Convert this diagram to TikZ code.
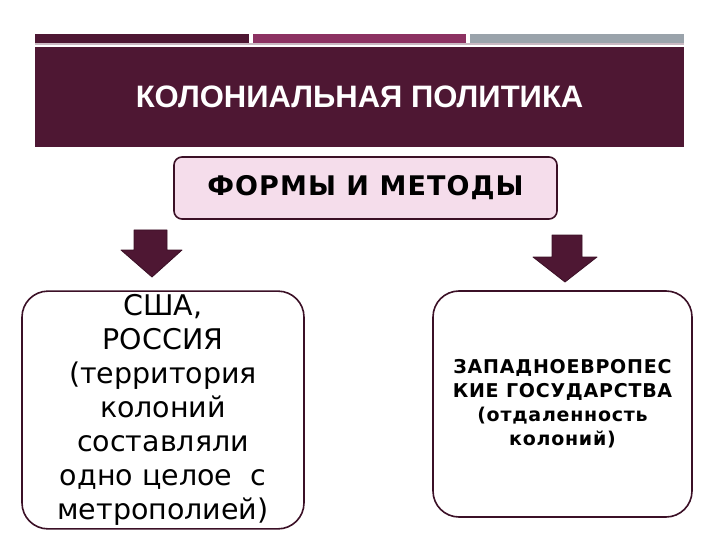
\documentclass[tikz,border=0pt]{standalone}
\usepackage{fontspec}
\setmainfont{DejaVu Sans}
\newfontfamily\titlefont{Liberation Sans}
\newfontfamily\spacedfont[LetterSpace=4]{DejaVu Sans}
\definecolor{plum}{HTML}{4E1733}
\definecolor{berry}{HTML}{8C3262}
\definecolor{slate}{HTML}{9AA3AB}
\definecolor{blush}{HTML}{F5DDEB}
\definecolor{rim}{HTML}{3B1026}
\begin{document}
\begin{tikzpicture}[x=1pt, y=-1pt, line join=round,
	formbox/.style={draw=rim, line width=1.6pt, rounded corners=8pt, fill=blush, minimum width=383pt, minimum height=62pt, font=\spacedfont\bfseries\fontsize{27}{30}\selectfont},
	sidebox/.style={draw=rim, line width=1.6pt, rounded corners=26pt, fill=white, align=center},
	downarrow/.style={fill=plum, draw=rim, line width=0.8pt}]
	\useasboundingbox (0,0) rectangle (720,540);
	% top bars
	\fill[plum] (35,34) rectangle (249,43);
	\fill[berry] (253,34) rectangle (466,43);
	\fill[slate] (470,34) rectangle (684,43);
	\fill[plum!30] (35,43.5) rectangle (684,45.5);
	\node[fill=plum, minimum width=649pt, minimum height=100pt, inner sep=0pt, text=white,
		font=\titlefont\bfseries\fontsize{31}{36}\selectfont] (title) at (359.5,97) {КОЛОНИАЛЬНАЯ ПОЛИТИКА};
	\node[formbox] (forms) at (365.5,188) {ФОРМЫ И МЕТОДЫ};
	% block arrows
	\filldraw[downarrow] (134,230) -- (167,230) -- (167,250) -- (182,250) -- (152,277) -- (121,250) -- (134,250) -- cycle;
	\filldraw[downarrow] (552,235) -- (582,235) -- (582,257) -- (597,257) -- (565,282) -- (533,257) -- (552,257) -- cycle;
	\node[sidebox, minimum width=282pt, minimum height=234pt, font=\fontsize{28.5}{34}\selectfont] (west) at (163,410)
		{США,\\РОССИЯ\\(территория\\колоний\\составляли\\одно целое\ \ с\\метрополией)};
	\node[sidebox, minimum width=259pt, minimum height=226pt, font=\spacedfont\bfseries\fontsize{19}{24}\selectfont] (europe) at (562.5,404)
		{ЗАПАДНОЕВРОПЕС\\КИЕ ГОСУДАРСТВА\\(отдаленность\\колоний)};
\end{tikzpicture}
\end{document}
